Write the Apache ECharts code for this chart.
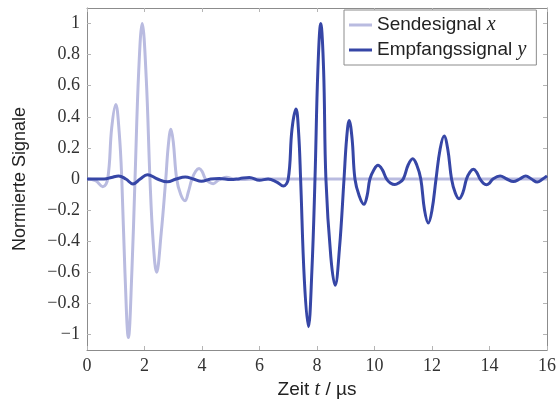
<!DOCTYPE html>
<html>
<head>
<meta charset="utf-8">
<script src="https://cdn.jsdelivr.net/npm/echarts@6/dist/echarts.min.js"></script>
<style>html,body{margin:0;padding:0;background:#fff}#c{width:558px;height:401px}</style>
</head>
<body>
<div id="c"></div>
<script>
// Time stamps (µs) and values of the transmitted signal x
const sendT = [0, 0.3, 0.55, 0.72, 0.86, 1.0, 1.12, 1.21, 1.32, 1.44, 1.56, 1.67, 1.8, 1.92, 2.06, 2.19, 2.3, 2.42, 2.58, 2.74, 2.83, 2.92, 3.0, 3.12, 3.26, 3.41, 3.53, 3.65, 3.78, 3.9, 4.0, 4.12, 4.25, 4.39, 4.55, 4.65, 4.85, 5.1, 5.4, 5.8, 16];
const sendV = [0, -0.01, -0.05, 0, 0.33, 0.48, 0.3, 0, -0.6, -1.02, -0.6, 0, 0.7, 1.0, 0.65, 0, -0.4, -0.6, -0.35, 0, 0.22, 0.32, 0.24, 0, -0.1, -0.14, -0.08, 0, 0.05, 0.068, 0.05, 0, -0.02, -0.03, -0.01, 0, 0.012, 0, -0.004, 0, 0];
// Time stamps (µs) and values of the received signal y
const recvT = [0, 0.6, 0.85, 1.1, 1.35, 1.6, 1.85, 2.1, 2.45, 2.8, 3.1, 3.42, 3.7, 3.98, 4.3, 4.6, 5.0, 5.3, 5.65, 6.0, 6.3, 6.6, 6.83, 7.0, 7.13, 7.27, 7.36, 7.43, 7.56, 7.7, 7.82, 7.93, 8.03, 8.13, 8.23, 8.31, 8.48, 8.63, 8.78, 8.94, 9.03, 9.12, 9.22, 9.32, 9.47, 9.63, 9.74, 9.84, 9.98, 10.12, 10.27, 10.42, 10.55, 10.71, 10.85, 11.0, 11.17, 11.33, 11.47, 11.61, 11.74, 11.87, 12.0, 12.14, 12.28, 12.42, 12.55, 12.68, 12.81, 12.94, 13.07, 13.2, 13.32, 13.44, 13.55, 13.67, 13.78, 13.9, 14.0, 14.12, 14.37, 14.6, 14.83, 15.05, 15.26, 15.46, 15.66, 15.85, 16];
const recvV = [0, 0, 0.01, 0.02, 0, -0.032, 0, 0.028, 0, -0.018, 0, 0.013, 0, -0.015, 0, 0.004, -0.004, 0.002, 0.01, -0.008, 0, -0.02, -0.045, 0, 0.32, 0.45, 0.3, 0, -0.65, -0.95, -0.6, 0, 0.7, 1.0, 0.7, 0, -0.5, -0.684, -0.45, 0, 0.26, 0.377, 0.26, 0, -0.11, -0.163, -0.11, 0, 0.06, 0.088, 0.06, 0, -0.025, -0.036, -0.025, 0, 0.09, 0.13, 0.09, 0, -0.2, -0.283, -0.2, 0, 0.19, 0.276, 0.19, 0, -0.09, -0.127, -0.09, 0, 0.044, 0.062, 0.044, 0, -0.026, -0.037, -0.026, 0, 0.019, 0, -0.016, 0, 0.019, 0, -0.02, 0, 0.02];
// Tick labels
const xTicks = [0, 2, 4, 6, 8, 10, 12, 14, 16];
const yTicks = [-1, -0.8, -0.6, -0.4, -0.2, 0, 0.2, 0.4, 0.6, 0.8, 1];
const seriesNames = ['Sendesignal', 'Empfangssignal'];
const seriesVars = ['x', 'y'];

const zip = (a, b) => a.map((t, i) => [t, b[i]]);
const fmtY = v => { const r = Math.round(v * 10) / 10; return r < 0 ? '\u2212' + String(-r) : String(r); };

const chart = echarts.init(document.getElementById('c'), null, {renderer: 'canvas'});
const frame = '#8c8c8c';
const tickC = '#b5b5b5';
const serif = 'Liberation Serif';
const sans = 'Liberation Sans';

chart.setOption({
  animation: false,
  backgroundColor: '#fff',
  grid: {left: 87, right: 11, top: 8, bottom: 51, containLabel: false, outerBoundsMode: 'none'},
  legend: {
    data: seriesNames,
    orient: 'vertical',
    left: 344, top: 10,
    itemWidth: 23, itemHeight: 3,
    itemGap: 5,
    icon: 'rect',
    padding: [5, 10, 5, 5],
    borderColor: '#8c8c8c', borderWidth: 1,
    backgroundColor: '#fff',
    formatter: name => '{a|' + name + ' }{b|' + seriesVars[seriesNames.indexOf(name)] + '}',
    textStyle: {
      rich: {
        a: {fontFamily: sans, fontSize: 19, color: '#222'},
        b: {fontFamily: serif, fontStyle: 'italic', fontSize: 20, color: '#222'}
      }
    }
  },
  xAxis: [{
    type: 'value', min: 0, max: 16, interval: 2,
    name: '{a|Zeit }{b|t}{a| / µs}',
    nameLocation: 'middle', nameGap: 30,
    nameTextStyle: {rich: {
      a: {fontFamily: sans, fontSize: 19, color: '#222'},
      b: {fontFamily: serif, fontStyle: 'italic', fontSize: 20, color: '#222'}
    }},
    axisLine: {show: true, onZero: false, lineStyle: {color: frame, width: 1}},
    axisTick: {show: true, inside: true, length: 4, lineStyle: {color: tickC}},
    axisLabel: {fontFamily: serif, fontSize: 18, color: '#333', margin: 7,
      formatter: v => xTicks.includes(v) ? String(v) : ''},
    splitLine: {show: false}
  }, {
    type: 'value', min: 0, max: 16, interval: 2, position: 'top',
    axisLine: {show: true, onZero: false, lineStyle: {color: frame, width: 1}},
    axisTick: {show: true, inside: true, length: 4, lineStyle: {color: tickC}},
    axisLabel: {show: false}, splitLine: {show: false}
  }],
  yAxis: [{
    type: 'value', min: -1.1, max: 1.1,
    name: 'Normierte Signale',
    nameLocation: 'middle', nameGap: 58,
    nameTextStyle: {fontFamily: sans, fontSize: 18, color: '#222'},
    axisLine: {show: true, onZero: false, lineStyle: {color: frame, width: 1}},
    axisTick: {show: true, inside: true, length: 4, customValues: yTicks, lineStyle: {color: tickC}},
    axisLabel: {fontFamily: serif, fontSize: 18, color: '#333', margin: 7, customValues: yTicks, formatter: fmtY},
    splitLine: {show: false}
  }, {
    type: 'value', min: -1.1, max: 1.1, position: 'right',
    axisLine: {show: true, onZero: false, lineStyle: {color: frame, width: 1}},
    axisTick: {show: true, inside: true, length: 4, customValues: yTicks, lineStyle: {color: tickC}},
    axisLabel: {show: false}, splitLine: {show: false}
  }],
  series: [{
    name: seriesNames[0], type: 'line', xAxisIndex: 0, yAxisIndex: 0,
    data: zip(sendT, sendV), showSymbol: false, symbol: 'none', smooth: 0.4,
    lineStyle: {color: '#b9bbe0', width: 3}, itemStyle: {color: '#b9bbe0'}
  }, {
    name: seriesNames[1], type: 'line', xAxisIndex: 0, yAxisIndex: 0,
    data: zip(recvT, recvV), showSymbol: false, symbol: 'none', smooth: 0.4,
    lineStyle: {color: '#3646a6', width: 3}, itemStyle: {color: '#3646a6'}
  }]
});
</script>
</body>
</html>
